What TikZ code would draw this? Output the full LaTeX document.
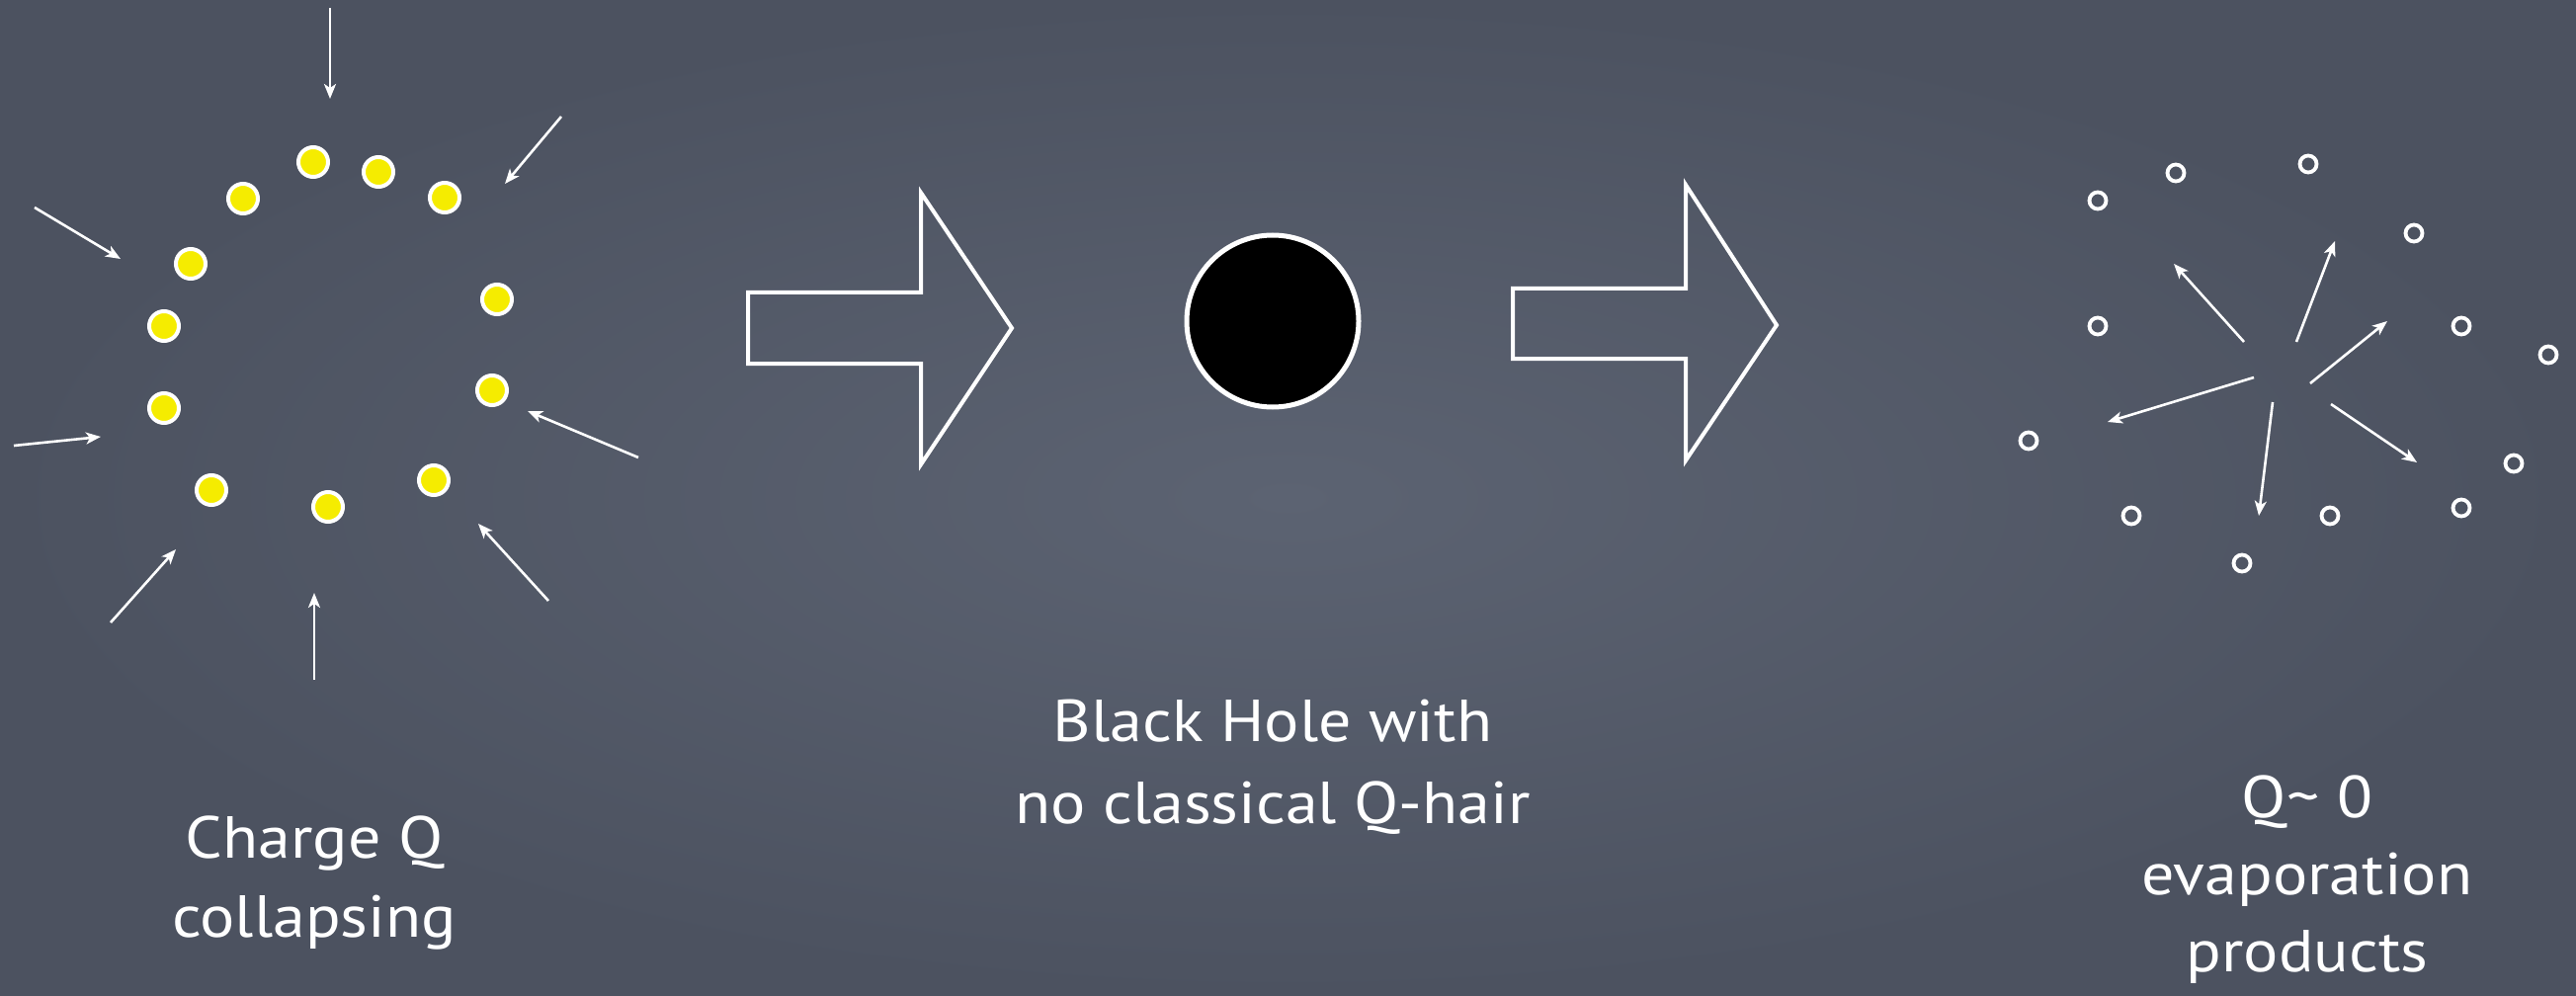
\documentclass[tikz,border=0pt]{standalone}
\usepackage{fontspec}
\setmainfont{PT Sans}[FakeStretch=1.1]
\usetikzlibrary{arrows.meta}
\definecolor{boardlight}{RGB}{92,99,114}
\definecolor{boarddark}{RGB}{76,82,96}
\definecolor{chargeyellow}{RGB}{245,236,0}
\tikzset{
  chargedot/.style={circle, draw=white, line width=4pt, fill=chargeyellow, minimum size=30pt, inner sep=0pt},
  product/.style={circle, draw=white, line width=3.8pt, minimum size=17pt, inner sep=0pt},
  inarrow/.style={draw=white, line width=2.6pt, -{Stealth[length=15pt,width=12pt,inset=4pt]}},
  blockarrow/.style={draw=white, line width=4pt, line join=miter},
  label/.style={text=white, font=\fontsize{60}{62}\selectfont, anchor=base, inner sep=0pt}
}
\begin{document}
\begin{tikzpicture}[x=1pt,y=-1pt]
\useasboundingbox (0,0) rectangle (2607,1008);
\shade[inner color=boardlight, outer color=boarddark] (0,0) rectangle (2607,1008);

% yellow charges
\node[chargedot] (d1) at (317,164) {};
\node[chargedot] (d2) at (383,174) {};
\node[chargedot] (d3) at (450,200) {};
\node[chargedot] (d4) at (246,201) {};
\node[chargedot] (d5) at (193,267) {};
\node[chargedot] (d6) at (166,330) {};
\node[chargedot] (d7) at (166,413) {};
\node[chargedot] (d8) at (503,303) {};
\node[chargedot] (d9) at (498,395) {};
\node[chargedot] (d10) at (214,496) {};
\node[chargedot] (d11) at (332,513) {};
\node[chargedot] (d12) at (439,486) {};

% incoming arrows
\coordinate (a1s) at (334,8);    \coordinate (a1e) at (334,100);
\coordinate (a2s) at (568,118);  \coordinate (a2e) at (511,186);
\coordinate (a3s) at (35,210);   \coordinate (a3e) at (122,262);
\coordinate (a4s) at (14,451);   \coordinate (a4e) at (102,442);
\coordinate (a5s) at (646,463);  \coordinate (a5e) at (534,416);
\coordinate (a6s) at (112,630);  \coordinate (a6e) at (178,556);
\coordinate (a7s) at (318,688);  \coordinate (a7e) at (318,600);
\coordinate (a8s) at (555,608);  \coordinate (a8e) at (484,530);
\foreach \i in {1,...,8} \draw[inarrow] (a\i s) -- (a\i e);

% first block arrow
\draw[blockarrow] (757,296) -- (932,296) -- (932,195) -- (1024,332) -- (932,470) -- (932,368) -- (757,368) -- cycle;

% black hole
\node[circle, draw=white, line width=5pt, fill=black, minimum size=174pt, inner sep=0pt] (bh) at (1288,325) {};

% second block arrow
\draw[blockarrow] (1531,292) -- (1706,292) -- (1706,187) -- (1798,329) -- (1706,466) -- (1706,363) -- (1531,363) -- cycle;

% evaporation products
\node[product] (p1) at (2123,203) {};
\node[product] (p2) at (2202,175) {};
\node[product] (p3) at (2336,166) {};
\node[product] (p4) at (2443,236) {};
\node[product] (p5) at (2123,330) {};
\node[product] (p6) at (2491,330) {};
\node[product] (p7) at (2579,359) {};
\node[product] (p8) at (2053,446) {};
\node[product] (p9) at (2157,522) {};
\node[product] (p10) at (2269,570) {};
\node[product] (p11) at (2358,522) {};
\node[product] (p12) at (2491,514) {};
\node[product] (p13) at (2544,469) {};

% outgoing arrows
\coordinate (o1s) at (2271,346); \coordinate (o1e) at (2200,267);
\coordinate (o2s) at (2324,346); \coordinate (o2e) at (2363,244);
\coordinate (o3s) at (2338,388); \coordinate (o3e) at (2416,325);
\coordinate (o4s) at (2281,382); \coordinate (o4e) at (2133,427);
\coordinate (o5s) at (2300,407); \coordinate (o5e) at (2286,522);
\coordinate (o6s) at (2359,409); \coordinate (o6e) at (2446,468);
\foreach \i in {1,...,6} \draw[inarrow] (o\i s) -- (o\i e);

% labels
\node[label] (t1) at (318,868) {Charge Q};
\node[label] (t2) at (318,948) {collapsing};
\node[label] (t3) at (1288,750) {Black Hole with};
\node[label] (t4) at (1288,833) {no classical Q-hair};
\node[label] (t5) at (2335,827) {Q\textasciitilde{} 0};
\node[label] (t6) at (2335,905) {evaporation};
\node[label] (t7) at (2335,983) {products};
\end{tikzpicture}
\end{document}
